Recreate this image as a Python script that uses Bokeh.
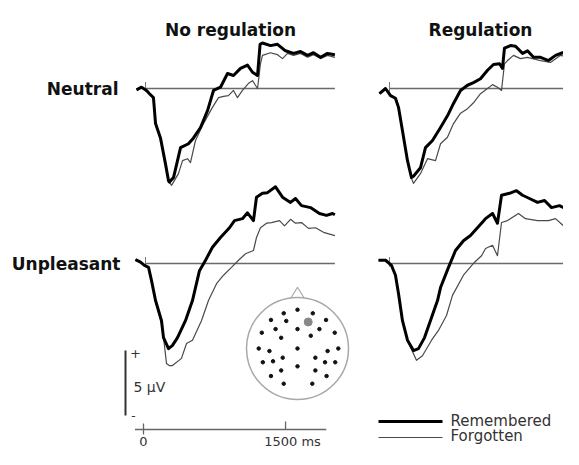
from bokeh.plotting import figure
from bokeh.models import Range1d
from bokeh.core.properties import value
from bokeh.embed import file_html
from bokeh.resources import INLINE

# ---------------- data (ms, microvolts) ----------------
COLUMNS = ["No regulation", "Regulation"]
ROWS = ["Neutral", "Unpleasant"]
SERIES = ["Remembered", "Forgotten"]

NR_NEU_REM_T = [-95, -42, 11, 42, 84, 106, 158, 211, 243, 253, 296, 370, 454, 507, 581, 655, 718, 792, 866, 929,
                1003, 1077, 1130, 1183, 1210, 1235, 1320, 1394, 1478, 1563, 1637, 1711, 1774, 1848, 1922, 2000]
NR_NEU_REM_V = [-0.1, 0.1, -0.15, -0.4, -0.7, -2.7, -3.8, -5.8, -7.1, -7.2, -6.85, -4.55, -4.25, -3.8, -3.0, -1.7, -0.15, 0.1, 1.15, 1.0,
                1.55, 1.8, 1.25, 1.0, 3.4, 3.5, 3.3, 3.4, 2.9, 2.7, 2.85, 2.55, 2.75, 2.4, 2.7, 2.6]
NR_NEU_FOR_T = [-95, -42, 11, 42, 84, 106, 158, 211, 243, 275, 348, 391, 444, 475, 528, 612, 707, 771, 824, 876,
                929, 971, 1024, 1088, 1130, 1161, 1183, 1214, 1235, 1320, 1394, 1447, 1500, 1563, 1637, 1711, 1774, 1848, 1922, 2000]
NR_NEU_FOR_V = [-0.1, 0.1, -0.15, -0.4, -0.7, -2.6, -3.8, -5.9, -7.1, -7.45, -6.55, -5.55, -5.4, -5.7, -4.0, -2.7, -1.45, -0.7, -0.6, -0.55,
                -0.15, -0.7, -0.15, 0.4, 0.6, 0.25, 0.0, 1.9, 2.55, 2.75, 2.6, 2.3, 2.7, 2.55, 2.7, 2.4, 2.6, 2.3, 2.55, 2.4]

RG_NEU_REM_T = [-106, -42, 11, 63, 95, 137, 190, 232, 253, 327, 380, 454, 539, 612, 676, 750, 824, 887, 961, 1035,
                1098, 1162, 1193, 1214, 1278, 1331, 1405, 1457, 1521, 1595, 1679, 1753, 1827, 1911, 2000]
RG_NEU_REM_V = [-0.4, 0.0, -0.55, -0.75, -1.45, -3.25, -5.55, -6.85, -6.75, -6.1, -4.55, -4.0, -3.0, -2.1, -1.15, -0.15, 0.25, 0.45, 0.75, 1.4,
                1.85, 1.9, 1.55, 3.1, 3.3, 3.25, 2.7, 2.9, 2.4, 2.4, 2.15, 2.55, 2.75, 2.6, 2.6]
RG_NEU_FOR_T = [-106, -42, 11, 63, 95, 137, 190, 232, 253, 327, 401, 486, 539, 612, 676, 750, 824, 887, 961, 1035,
                1088, 1140, 1183, 1214, 1246, 1309, 1383, 1457, 1595, 1700, 1806, 1900, 2000]
RG_NEU_FOR_V = [-0.4, 0.0, -0.55, -0.75, -1.45, -3.25, -5.6, -6.9, -7.3, -6.55, -5.4, -5.55, -4.25, -3.75, -2.7, -1.9, -1.55, -1.1, -0.4, 0.0,
                0.3, 0.1, -0.15, 1.9, 2.15, 2.55, 2.3, 2.4, 2.15, 2.0, 2.55, 2.4, 2.5]

NR_UNP_REM_T = [-106, -53, -11, 32, 63, 106, 169, 190, 243, 285, 338, 422, 496, 570, 634, 707, 792, 887, 940, 1024,
                1077, 1140, 1172, 1235, 1288, 1373, 1447, 1531, 1584, 1647, 1742, 1837, 1911, 1975, 2000]
NR_UNP_REM_V = [0.3, 0.1, -0.15, -0.3, -1.3, -2.85, -4.4, -5.7, -6.55, -6.3, -5.7, -4.4, -2.85, -0.55, 0.25, 1.25, 2.0, 2.75, 3.3, 3.45,
                3.9, 3.3, 5.1, 5.4, 5.45, 5.9, 5.1, 4.7, 5.0, 4.45, 4.3, 3.85, 3.7, 3.85, 3.75]
NR_UNP_FOR_T = [-106, -53, -11, 32, 63, 106, 169, 200, 222, 250, 285, 380, 433, 496, 591, 665, 750, 824, 908, 982,
                1056, 1140, 1172, 1214, 1278, 1331, 1415, 1468, 1531, 1584, 1647, 1721, 1795, 1880, 2000]
NR_UNP_FOR_V = [0.3, 0.1, -0.15, -0.3, -1.3, -2.85, -4.6, -6.3, -7.7, -7.85, -7.85, -7.3, -6.15, -5.9, -4.4, -2.85, -1.55, -0.9, -0.3, 0.25,
                0.75, 1.0, 2.0, 2.75, 3.1, 3.15, 3.3, 2.9, 3.4, 3.1, 3.15, 2.7, 2.75, 2.4, 2.15]

RG_UNP_REM_T = [-116, -42, 21, 63, 95, 137, 190, 253, 306, 370, 444, 507, 539, 623, 697, 781, 855, 929, 1014, 1088,
                1140, 1183, 1267, 1341, 1405, 1478, 1563, 1637, 1711, 1795, 1890, 1975, 2000]
RG_UNP_REM_V = [0.25, 0.25, -0.15, -0.9, -2.3, -4.4, -5.9, -6.7, -6.55, -5.7, -4.15, -2.85, -1.85, -0.3, 1.0, 1.75, 2.15, 2.75, 3.45, 3.85,
                3.1, 5.25, 5.4, 5.6, 5.25, 5.0, 4.7, 4.85, 4.3, 4.45, 4.1, 3.85, 3.8]
RG_UNP_FOR_T = [-116, -42, 21, 63, 95, 137, 190, 285, 348, 444, 517, 602, 665, 781, 898, 972, 1014, 1088, 1140, 1183,
                1246, 1362, 1436, 1563, 1679, 1753, 1837, 1911, 2000]
RG_UNP_FOR_V = [0.25, 0.25, -0.15, -0.9, -2.3, -4.4, -5.95, -7.45, -7.1, -5.9, -5.15, -4.0, -2.45, -0.9, 0.1, 0.6, 1.15, 1.4, 0.6, 3.15,
                3.3, 3.85, 3.45, 3.3, 3.3, 3.45, 2.9, 3.15, 3.1]

BASELINE_T = [0, 2000]          # zero line extent (ms)
TIME_TICKS = [0, 1500]          # ms
TIME_TICK_LABELS = ["0", "1500 ms"]
TIME_AXIS_EXTENT = [-90, 1930]  # ms
SCALE_UV = 5                    # scale bar (microvolts)
SCALE_LABEL = "5 \u00b5V"

# electrode montage (unit head radius)
ELEC_X = [0, -0.27, 0.30, -0.52, -0.22, 0.56, -0.43, 0, 0.43, -0.70, -0.32, 0.26, 0.73, -0.76, -0.55, 0, 0.59, 0.80,
          -0.68, -0.48, -0.29, 0.35, 0.54, 0.74, 0, -0.32, 0.35, -0.52, 0.57, -0.27, 0.29]
ELEC_Y = [0.76, 0.69, 0.69, 0.56, 0.54, 0.56, 0.38, 0.38, 0.38, 0.31, 0.21, 0.25, 0.31, 0.0, -0.05, 0.0, -0.05, 0.0,
          -0.27, -0.25, -0.18, -0.18, -0.27, -0.27, -0.35, -0.43, -0.43, -0.54, -0.54, -0.69, -0.69]
SITE_X = [0.21]
SITE_Y = [0.52]
NOSE_X = [-0.13, 0, 0.13]
NOSE_Y = [0.99, 1.2, 0.99]

for a, b in [(NR_NEU_REM_T, NR_NEU_REM_V), (NR_NEU_FOR_T, NR_NEU_FOR_V), (RG_NEU_REM_T, RG_NEU_REM_V),
             (RG_NEU_FOR_T, RG_NEU_FOR_V), (NR_UNP_REM_T, NR_UNP_REM_V), (NR_UNP_FOR_T, NR_UNP_FOR_V),
             (RG_UNP_REM_T, RG_UNP_REM_V), (RG_UNP_FOR_T, RG_UNP_FOR_V), (ELEC_X, ELEC_Y)]:
    assert len(a) == len(b), (len(a), len(b))

# ---------------- layout (pixels) ----------------
W, H = 563, 449
SX = 0.0947      # px per ms
SY = 13.0        # px per microvolt
COL_X0 = {"c0": 145, "c1": 389}      # screen x of t = 0
ROW_Y0 = {"r0": 88, "r1": 263}       # screen y (from top) of 0 uV
AXIS_X0 = 143
AXIS_Y = 429
BAR_X = 125
BAR_Y0 = 415
HEAD_CX, HEAD_CY, HEAD_R = 297, 348, 51

FONT = value("DejaVu Sans")

p = figure(width=W, height=H, x_range=Range1d(0, W), y_range=Range1d(H, 0),
           output_backend="svg", toolbar_location=None, min_border=0,
           x_axis_location=None, y_axis_location=None)
p.grid.visible = False
p.outline_line_color = None
p.background_fill_color = "white"
p.border_fill_color = "white"


def xr(x0, scale):
    return Range1d(start=-x0 / scale, end=(W - x0) / scale)


def yr(y0, scale):
    return Range1d(start=-(H - y0) / scale, end=y0 / scale)


p.extra_x_ranges = {
    "c0": xr(COL_X0["c0"], SX), "c1": xr(COL_X0["c1"], SX),
    "axis": xr(AXIS_X0, SX), "hx": xr(HEAD_CX, HEAD_R)}
p.extra_y_ranges = {
    "r0": yr(ROW_Y0["r0"], SY), "r1": yr(ROW_Y0["r1"], SY),
    "bar": yr(BAR_Y0, SY), "hy": yr(HEAD_CY, HEAD_R)}

panels = [
    ("c0", "r0", NR_NEU_REM_T, NR_NEU_REM_V, NR_NEU_FOR_T, NR_NEU_FOR_V),
    ("c1", "r0", RG_NEU_REM_T, RG_NEU_REM_V, RG_NEU_FOR_T, RG_NEU_FOR_V),
    ("c0", "r1", NR_UNP_REM_T, NR_UNP_REM_V, NR_UNP_FOR_T, NR_UNP_FOR_V),
    ("c1", "r1", RG_UNP_REM_T, RG_UNP_REM_V, RG_UNP_FOR_T, RG_UNP_FOR_V),
]

for cx, ry, rt, rv, ft, fv in panels:
    # zero line
    p.line(BASELINE_T, [0, 0], x_range_name=cx, y_range_name=ry, line_color="#6a6a6a", line_width=1.5)
    # stimulus onset tick
    p.segment(x0=[0], y0=[-0.25], x1=[0], y1=[0.5], x_range_name=cx, y_range_name=ry,
              line_color="#777777", line_width=1)
    p.line(ft, fv, x_range_name=cx, y_range_name=ry, line_color="#4a4a4a", line_width=1.2, line_join="round")
    p.line(rt, rv, x_range_name=cx, y_range_name=ry, line_color="black", line_width=3, line_join="round")

# titles and row labels
p.text(x=[230, 480], y=[29, 29], text=COLUMNS, text_font=FONT, text_font_size="17px",
       text_font_style="bold", text_align="center", text_baseline="alphabetic", text_color="#111111")
p.text(x=[118, 120], y=[ROW_Y0["r0"], ROW_Y0["r1"]], text=ROWS, text_font=FONT, text_font_size="17px",
       text_font_style="bold", text_align="right", text_baseline="middle", text_color="#111111")

# time axis
p.line(TIME_AXIS_EXTENT, [AXIS_Y, AXIS_Y], x_range_name="axis", line_color="#666666", line_width=1.5)
p.segment(x0=TIME_TICKS, y0=[AXIS_Y - 6, AXIS_Y - 8], x1=TIME_TICKS, y1=[AXIS_Y + 5, AXIS_Y],
          x_range_name="axis", line_color="#666666", line_width=1.3)
p.text(x=TIME_TICKS, y=[441, 441], text=TIME_TICK_LABELS, x_offset=[0, 7], x_range_name="axis",
       text_font=FONT, text_font_size="13px", text_align="center", text_baseline="middle", text_color="#333333")

# voltage scale bar
p.segment(x0=[BAR_X], y0=[0], x1=[BAR_X], y1=[SCALE_UV], y_range_name="bar", line_color="#333333", line_width=2)
p.text(x=[BAR_X + 10], y=[SCALE_UV - 0.2], text=["+"], y_range_name="bar", text_font=FONT, text_font_size="13px",
       text_align="center", text_baseline="middle", text_color="#333333")
p.text(x=[BAR_X + 8], y=[0], text=["-"], y_range_name="bar", text_font=FONT, text_font_size="12px",
       text_align="center", text_baseline="middle", text_color="#333333")
p.text(x=[BAR_X + 8], y=[SCALE_UV / 2.3], text=[SCALE_LABEL], y_range_name="bar", text_font=FONT,
       text_font_size="14px", text_align="left", text_baseline="middle", text_color="#333333")

# head map
p.circle(x=[0], y=[0], radius=1, x_range_name="hx", y_range_name="hy",
         fill_color=None, line_color="#a8a8a8", line_width=1.5)
p.line(NOSE_X, NOSE_Y, x_range_name="hx", y_range_name="hy", line_color="#a8a8a8", line_width=1.2)
p.scatter(ELEC_X, ELEC_Y, x_range_name="hx", y_range_name="hy", size=3.5, color="#111111")
p.scatter(SITE_X, SITE_Y, x_range_name="hx", y_range_name="hy", size=8, color="#888888")

# legend
p.segment(x0=[378, 378], y0=[421, 437], x1=[442, 442], y1=[421, 437],
          line_color=["black", "#4a4a4a"], line_width=[3, 1.2])
p.text(x=[450, 450], y=[420, 435], text=SERIES, text_font=FONT, text_font_size="15px",
       text_align="left", text_baseline="middle", text_color="#333333")

open("out.html", "w").write(file_html(p, INLINE))
